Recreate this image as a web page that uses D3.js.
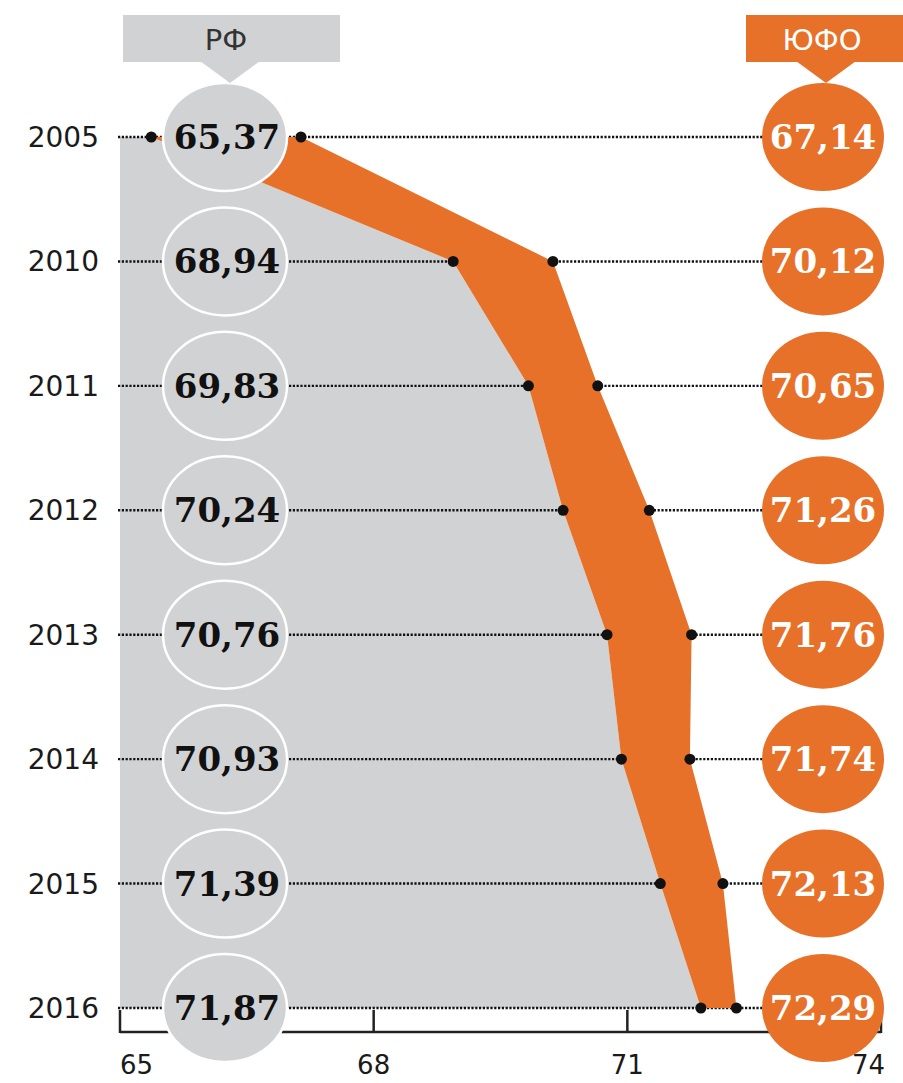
<!DOCTYPE html>
<html>
<head>
<meta charset="utf-8">
<script src="https://cdn.jsdelivr.net/npm/d3@7"></script>
<style>
  html, body { margin: 0; padding: 0; background: #fff; }
  svg { display: block; }
</style>
</head>
<body>
<svg id="chart" width="903" height="1083"></svg>
<script>
const years = ["2005", "2010", "2011", "2012", "2013", "2014", "2015", "2016"];
const rfValues = [65.37, 68.94, 69.83, 70.24, 70.76, 70.93, 71.39, 71.87];
const sfdValues = [67.14, 70.12, 70.65, 71.26, 71.76, 71.74, 72.13, 72.29];
const xTicks = [65, 68, 71, 74];
const seriesNames = ["РФ", "ЮФО"];

const GRAY = "#d1d2d4";
const ORANGE = "#e8712a";
const fmt = v => v.toFixed(2).replace(".", ",");

const svg = d3.select("#chart");

const x = d3.scaleLinear().domain([65, 74]).range([120, 881]);
const y = d3.scalePoint().domain(years).range([137, 1008]);

const rfX = 225, sfdX = 823;
const rx = 62, ry = 54;
const axisY = 1032;

const rows = years.map((yr, i) => ({ year: yr, rf: rfValues[i], sfd: sfdValues[i] }));

// gray area (left of RF line)
const grayArea = d3.area()
  .y(d => y(d.year))
  .x0(x(65))
  .x1(d => x(d.rf));
svg.append("path").datum(rows).attr("d", grayArea).attr("fill", GRAY);

// dotted guide lines
svg.append("g").selectAll("line").data(rows).join("line")
  .attr("x1", x(65) - 2).attr("x2", sfdX - rx + 2)
  .attr("y1", d => y(d.year)).attr("y2", d => y(d.year))
  .attr("stroke", "#111").attr("stroke-width", 2.4)
  .attr("stroke-dasharray", "2.2,1.6");

// orange band between RF and ЮФО
const band = d3.area()
  .y(d => y(d.year))
  .x0(d => x(d.rf))
  .x1(d => x(d.sfd));
svg.append("path").datum(rows).attr("d", band).attr("fill", ORANGE);

// dots
svg.append("g").selectAll("circle").data(rows).join("circle")
  .attr("cx", d => x(d.rf)).attr("cy", d => y(d.year)).attr("r", 5.5).attr("fill", "#111");
svg.append("g").selectAll("circle").data(rows).join("circle")
  .attr("cx", d => x(d.sfd)).attr("cy", d => y(d.year)).attr("r", 5.5).attr("fill", "#111");

// axis bracket
const axisG = svg.append("g");
axisG.append("line").attr("x1", x(65)).attr("x2", x(74)).attr("y1", axisY).attr("y2", axisY)
  .attr("stroke", "#222").attr("stroke-width", 2.5);
axisG.selectAll("line.tick").data(xTicks).join("line")
  .attr("class", "tick")
  .attr("x1", d => x(d)).attr("x2", d => x(d))
  .attr("y1", 1010).attr("y2", axisY + 1)
  .attr("stroke", "#222").attr("stroke-width", 2.5);
axisG.selectAll("text").data(xTicks).join("text")
  .attr("x", (d, i) => i === xTicks.length - 1 ? x(d) + 4 : x(d))
  .attr("y", 1074)
  .attr("text-anchor", (d, i) => i === 0 ? "start" : i === xTicks.length - 1 ? "end" : "middle")
  .attr("font-family", "DejaVu Sans, sans-serif")
  .attr("font-size", 26)
  .attr("fill", "#1a1a1a")
  .text(d => d);

// year labels
svg.append("g").selectAll("text").data(rows).join("text")
  .attr("x", 99).attr("y", d => y(d.year) + 10)
  .attr("text-anchor", "end")
  .attr("font-family", "DejaVu Sans, sans-serif")
  .attr("font-size", 28)
  .attr("fill", "#1a1a1a")
  .text(d => d.year);

// RF ellipses
const rfG = svg.append("g");
rfG.selectAll("ellipse").data(rows).join("ellipse")
  .attr("cx", rfX).attr("cy", d => y(d.year)).attr("rx", rx).attr("ry", ry)
  .attr("fill", GRAY).attr("stroke", "#fff").attr("stroke-width", 2.5);
rfG.selectAll("text").data(rows).join("text")
  .attr("x", rfX + 2).attr("y", d => y(d.year) + 12)
  .attr("text-anchor", "middle")
  .attr("font-family", "DejaVu Serif, serif")
  .attr("font-weight", "bold")
  .attr("font-size", 34)
  .attr("fill", "#111")
  .text(d => fmt(d.rf));

// ЮФО ellipses
const sG = svg.append("g");
sG.selectAll("ellipse").data(rows).join("ellipse")
  .attr("cx", sfdX).attr("cy", d => y(d.year)).attr("rx", rx - 1).attr("ry", ry)
  .attr("fill", ORANGE);
sG.selectAll("text").data(rows).join("text")
  .attr("x", sfdX).attr("y", d => y(d.year) + 12)
  .attr("text-anchor", "middle")
  .attr("font-family", "DejaVu Serif, serif")
  .attr("font-weight", "bold")
  .attr("font-size", 34)
  .attr("fill", "#fff")
  .text(d => fmt(d.sfd));

// headers
const headers = [
  { name: seriesNames[0], x0: 123, x1: 340, cx: 230, fill: GRAY, color: "#333" },
  { name: seriesNames[1], x0: 746, x1: 903, cx: 826, fill: ORANGE, color: "#fff" }
];
const hG = svg.append("g");
headers.forEach(h => {
  hG.append("rect").attr("x", h.x0).attr("y", 15).attr("width", h.x1 - h.x0).attr("height", 47)
    .attr("fill", h.fill);
  hG.append("path")
    .attr("d", `M${h.cx - 30},61 L${h.cx + 30},61 L${h.cx},83 Z`)
    .attr("fill", h.fill);
  hG.append("text").attr("x", h.cx - 4).attr("y", 50)
    .attr("text-anchor", "middle")
    .attr("font-family", "DejaVu Sans, sans-serif")
    .attr("font-size", 29)
    .attr("fill", h.color)
    .text(h.name);
});
</script>
</body>
</html>
